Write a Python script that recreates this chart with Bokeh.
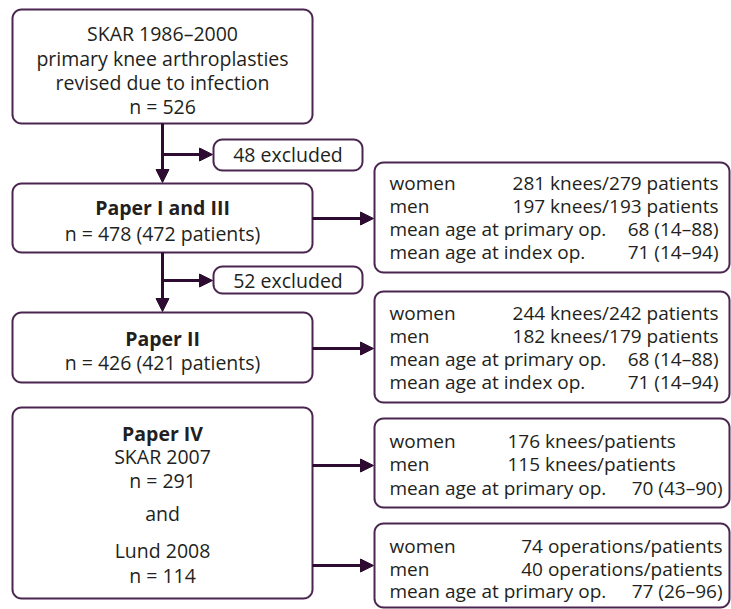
import numpy as np
from bokeh.plotting import figure
from bokeh.models import ColumnDataSource, Arrow, NormalHead, Range1d
from bokeh.core.properties import value
from bokeh.embed import file_html
from bokeh.resources import INLINE

# ---------------- data (texts of the flow chart) ----------------
source_lines = ["SKAR 1986–2000", "primary knee arthroplasties",
                "revised due to infection", "n = 526"]
excluded_labels = ["48 excluded", "52 excluded"]
paper13_lines = ["Paper I and III", "n = 478 (472 patients)"]
paper2_lines = ["Paper II", "n = 426 (421 patients)"]
paper4_lines = ["Paper IV", "SKAR 2007", "n = 291", "and", "Lund 2008", "n = 114"]
row_labels = ["women", "men", "mean age at primary op.", "mean age at index op."]
paper13_values = ["281 knees/279 patients", "197 knees/193 patients", "68 (14–88)", "71 (14–94)"]
paper2_values = ["244 knees/242 patients", "182 knees/179 patients", "68 (14–88)", "71 (14–94)"]
skar2007_values = ["176 knees/patients", "115 knees/patients", "70 (43–90)"]
lund2008_values = ["74 operations/patients", "40 operations/patients", "77 (26–96)"]

# ---------------- layout (page pixels, y downwards) ----------------
W, H = 731, 609
BORDER = "#4a2550"
ARROW = "#2e0b31"
TEXT = "#231f20"
FONT = value("Open Sans")
FS_LEFT = "19.5px"
FS_RIGHT = "19px"

left_boxes = {
    "source":  dict(l=12, r=312, t=9, b=123, ys=[33, 58, 82, 106], lines=source_lines, bold=False),
    "p13":     dict(l=12, r=312, t=183, b=252, ys=[207, 233], lines=paper13_lines, bold=True),
    "p2":      dict(l=12, r=312, t=312, b=382, ys=[338, 362], lines=paper2_lines, bold=True),
    "p4":      dict(l=12, r=312, t=407, b=598, ys=[433, 456, 480, 513, 550, 575], lines=paper4_lines, bold=True),
}
excl_boxes = [dict(l=213, r=362, t=139, b=170, y=154), dict(l=213, r=362, t=266, b=293, y=280)]
# value columns: (x, align) for every row
right_boxes = [
    dict(t=162, b=272, ys=[182, 205, 228, 251], vals=paper13_values, ay=218,
         vpos=[(718, "right")] * 4),
    dict(t=291, b=402, ys=[312, 335, 358, 381], vals=paper2_values, ay=348,
         vpos=[(718, "right")] * 4),
    dict(t=418, b=507, ys=[440, 463, 487], vals=skar2007_values, ay=465,
         vpos=[(507, "left"), (507, "left"), (722, "right")]),
    dict(t=523, b=607, ys=[545, 568, 590], vals=lund2008_values, ay=565,
         vpos=[(722, "right")] * 3),
]
RB_L, RB_R = 374, 729
LABEL_X = 389
CX = 162
RADIUS = 9


def Y(v):
    return -v


def round_rect(l, r, t, b, rad):
    """Outline of a rounded rectangle (page pixels, y downwards)."""
    xs, ys = [], []
    corners = [(r - rad, t + rad, -90, 0), (r - rad, b - rad, 0, 90),
               (l + rad, b - rad, 90, 180), (l + rad, t + rad, 180, 270)]
    for cx, cy, a0, a1 in corners:
        ang = np.radians(np.linspace(a0, a1, 10))
        xs.extend(cx + rad * np.cos(ang))
        ys.extend(Y(cy + rad * np.sin(ang)))
    return list(xs), list(ys)


p = figure(width=W, height=H, output_backend="svg", toolbar_location=None,
           x_range=Range1d(0, W), y_range=Range1d(-H, 0), min_border=0)
p.axis.visible = False
p.grid.visible = False
p.outline_line_color = None
p.background_fill_color = "white"
p.border_fill_color = "white"

# ---- boxes ----
all_boxes = [(bx["l"], bx["r"], bx["t"], bx["b"]) for bx in left_boxes.values()]
all_boxes += [(bx["l"], bx["r"], bx["t"], bx["b"]) for bx in excl_boxes]
all_boxes += [(RB_L, RB_R, bx["t"], bx["b"]) for bx in right_boxes]
pxs, pys = [], []
for l, r, t, b in all_boxes:
    xs, ys = round_rect(l, r, t, b, RADIUS)
    pxs.append(xs); pys.append(ys)
p.patches(xs="xs", ys="ys", source=ColumnDataSource(dict(xs=pxs, ys=pys)),
          fill_color="white", line_color=BORDER, line_width=2)

# ---- arrows ----
arr = dict(x0=[], y0=[], x1=[], y1=[])
def add_arrow(x0, y0, x1, y1):
    arr["x0"].append(x0); arr["y0"].append(Y(y0)); arr["x1"].append(x1); arr["y1"].append(Y(y1))

order = ["source", "p13", "p2"]
for i in range(2):
    a, b = left_boxes[order[i]], left_boxes[order[i + 1]]
    add_arrow(CX, a["b"], CX, b["t"] - 1)
    add_arrow(CX, excl_boxes[i]["y"], excl_boxes[i]["l"] - 1, excl_boxes[i]["y"])
for bx in right_boxes:
    add_arrow(312, bx["ay"], RB_L - 1, bx["ay"])

head = NormalHead(size=13, fill_color=ARROW, line_color=ARROW, line_width=1)
p.add_layout(Arrow(end=head, x_start="x0", y_start="y0", x_end="x1", y_end="y1",
                   source=ColumnDataSource(arr), line_color=ARROW, line_width=3))

# ---- texts ----
def add_text(xs, ys, texts, align="left", bold=False, size=FS_LEFT):
    src = ColumnDataSource(dict(x=xs, y=[Y(v) for v in ys], t=texts))
    p.text(x="x", y="y", text="t", source=src, text_font=FONT, text_font_size=size,
           text_color=TEXT, text_align=align, text_baseline="middle",
           text_font_style="bold" if bold else "normal")

for bx in left_boxes.values():
    lines, ys = bx["lines"], bx["ys"]
    if bx["bold"]:
        add_text([CX], ys[:1], lines[:1], "center", bold=True)
        add_text([CX] * (len(lines) - 1), ys[1:], lines[1:], "center")
    else:
        add_text([CX] * len(lines), ys, lines, "center")

add_text([(b["l"] + b["r"]) / 2 for b in excl_boxes], [b["y"] for b in excl_boxes],
         excluded_labels, "center")

for bx in right_boxes:
    n = len(bx["vals"])
    add_text([LABEL_X] * n, bx["ys"], row_labels[:n], size=FS_RIGHT)
    for (vx, al), vy, vt in zip(bx["vpos"], bx["ys"], bx["vals"]):
        add_text([vx], [vy], [vt], al, size=FS_RIGHT)

open("out.html", "w").write(file_html(p, INLINE))
